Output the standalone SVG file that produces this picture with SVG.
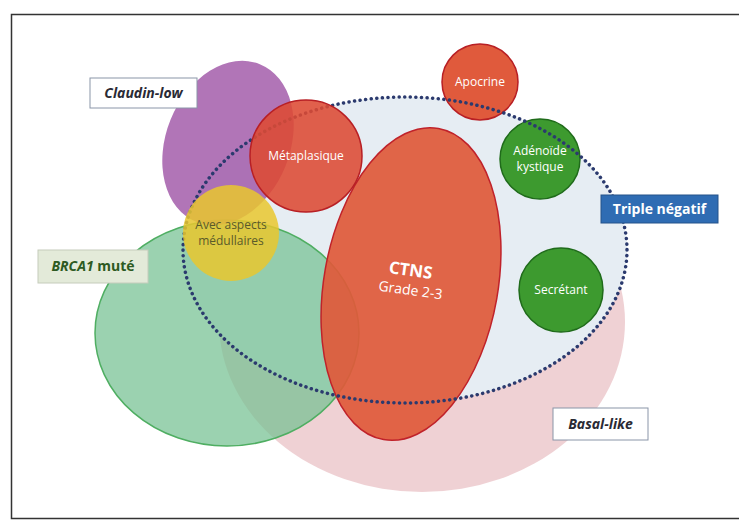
<svg xmlns="http://www.w3.org/2000/svg" width="739" height="523" viewBox="0 0 739 523">
<style>
.lbl{font-family:"Open Sans","Noto Sans","Liberation Sans",sans-serif;font-size:12px;fill:#ffffff;text-anchor:middle}
.tag{font-family:"Open Sans","Noto Sans","Liberation Sans",sans-serif;font-size:14px;font-weight:bold;font-style:italic;fill:#2a2a35}
.red{fill:#e05a3c;stroke:#b81f24;stroke-width:1.5}
.grn{fill:#3d9a2f;stroke:#1f6b1a;stroke-width:1.5}
</style>
<rect x="0" y="0" width="739" height="523" fill="#ffffff"/>
<rect x="11.5" y="14.5" width="740" height="504" fill="#ffffff" stroke="#333" stroke-width="1.5"/>

<g id="basal-like">
<ellipse cx="422" cy="322" rx="203" ry="170" fill="#ecc9cc" opacity="0.85"/>
</g>
<g id="triple-negatif-area">
<ellipse cx="405" cy="250" rx="222" ry="153" fill="#e6edf3"/>
</g>
<g id="brca1">
<ellipse cx="227" cy="333" rx="132" ry="113" fill="#74c192" fill-opacity="0.72" stroke="#4fae62" stroke-width="1.5"/>
</g>
<g id="claudin-low">
<ellipse cx="228" cy="143" rx="62" ry="85" transform="rotate(22 228 143)" fill="#9b4ea3" fill-opacity="0.78"/>
</g>
<g id="ctns">
<ellipse cx="411" cy="284" rx="87" ry="158" transform="rotate(10 411 284)" fill="#e0593a" fill-opacity="0.92" stroke="#c0222a" stroke-width="1.5"/>
<text transform="rotate(8 410 275)" x="410" y="276" class="lbl" style="font-size:17px;font-weight:bold">CTNS</text>
<text transform="rotate(8 410 294)" x="410" y="295" class="lbl" style="font-size:14px">Grade 2-3</text>
</g>
<g id="apocrine">
<circle cx="480" cy="82" r="38" class="red"/>
<text x="480" y="86" class="lbl">Apocrine</text>
</g>
<g id="adenoide">
<circle cx="540" cy="159" r="40" class="grn"/>
<text x="540" y="155" class="lbl">Adénoïde</text>
<text x="540" y="171" class="lbl">kystique</text>
</g>
<g id="secretant">
<circle cx="561" cy="290" r="42" class="grn"/>
<text x="561" y="294" class="lbl">Secrétant</text>
</g>
<g id="triple-negatif-border">
<ellipse cx="405" cy="250" rx="222" ry="153" fill="none" stroke="#2b3a6e" stroke-width="3.5" stroke-dasharray="0.1 5.5" stroke-linecap="round"/>
</g>
<g id="medullaires">
<circle cx="231" cy="233" r="48" fill="#e9c72e" fill-opacity="0.85"/>
<text x="231" y="229" class="lbl" style="fill:#5a5a2a">Avec aspects</text>
<text x="231" y="245" class="lbl" style="fill:#5a5a2a">médullaires</text>
</g>
<g id="metaplasique">
<circle cx="306" cy="156" r="56" fill="#dd4a33" fill-opacity="0.88" stroke="#b81f24" stroke-width="1.5"/>
<text x="306" y="160" class="lbl">Métaplasique</text>
</g>

<g id="label-claudin">
<rect x="90" y="78" width="107" height="30" fill="#ffffff" stroke="#8a95a8" stroke-width="1"/>
<text x="143.5" y="98" class="tag" text-anchor="middle">Claudin-low</text>
</g>
<g id="label-brca1">
<rect x="38" y="250" width="110" height="33" fill="#e3ead9" stroke="#c5ccbb" stroke-width="1"/>
<text x="93" y="271" class="tag" text-anchor="middle" style="fill:#2d5a22">BRCA1<tspan font-style="normal"> muté</tspan></text>
</g>
<g id="label-triple">
<rect x="601" y="195" width="117" height="28" fill="#2f6cb3" stroke="#24528a" stroke-width="1"/>
<text x="659.5" y="214" class="tag" text-anchor="middle" style="fill:#ffffff;font-style:normal">Triple négatif</text>
</g>
<g id="label-basal">
<rect x="553" y="408" width="95" height="32" fill="#ffffff" stroke="#8a95a8" stroke-width="1"/>
<text x="600.5" y="429" class="tag" text-anchor="middle">Basal-like</text>
</g>
</svg>
